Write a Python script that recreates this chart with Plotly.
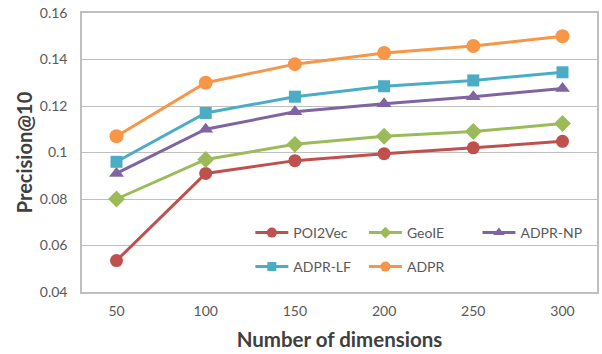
import plotly.graph_objects as go

dims = ["50", "100", "150", "200", "250", "300"]
poi2vec = [0.0535, 0.091, 0.0965, 0.0995, 0.102, 0.1048]
geoie = [0.080, 0.097, 0.1035, 0.107, 0.109, 0.1125]
adpr_np = [0.091, 0.110, 0.1175, 0.121, 0.124, 0.1275]
adpr_lf = [0.096, 0.117, 0.124, 0.1285, 0.131, 0.1345]
adpr = [0.107, 0.130, 0.138, 0.1428, 0.1458, 0.150]

# name, values, colour, symbol, marker size, legend marker size, legend id
series = [
    ("POI2Vec", poi2vec, "#C0504D", "circle", 13, 10, "legend"),
    ("GeoIE", geoie, "#9BBB59", "diamond", 13, 9, "legend2"),
    ("ADPR-NP", adpr_np, "#8064A2", "triangle-up", 13, 10, "legend3"),
    ("ADPR-LF", adpr_lf, "#4BACC6", "square", 12, 9, "legend4"),
    ("ADPR", adpr, "#F79646", "circle", 14, 10, "legend5"),
]

fig = go.Figure()
for name, vals, color, sym, size, lsize, lg in series:
    fig.add_trace(go.Scatter(
        x=dims, y=vals, name=name, mode="lines+markers",
        line=dict(color=color, width=3),
        marker=dict(symbol=sym, size=size, color=color),
        showlegend=False,
    ))
    # legend-only entry with smaller marker like the original
    fig.add_trace(go.Scatter(
        x=[None], y=[None], name=name, mode="lines+markers",
        line=dict(color=color, width=3),
        marker=dict(symbol=sym, size=lsize, color=color),
        legend=lg, showlegend=True,
    ))

font_family = "Lato, Open Sans, sans-serif"
leg_common = dict(bgcolor="rgba(0,0,0,0)", font=dict(family=font_family, size=14, color="#595959"),
                  xanchor="left", yanchor="middle", itemwidth=33, borderwidth=0)

def lx(px):
    return (px - 82) / 517.0

def ly(py):
    return (292 - py) / 279.0

fig.update_layout(
    width=602, height=354,
    margin=dict(l=82, r=3, t=13, b=62),
    paper_bgcolor="white", plot_bgcolor="white",
    font=dict(family=font_family, color="#595959", size=14),
    xaxis=dict(
        type="category", showgrid=False, showline=True, linecolor="#BFBFBF", linewidth=1.5, mirror=True,
        ticks="", tickfont=dict(size=14, color="#595959"), ticklabelstandoff=5,
        title=dict(text="<b>Number of dimensions</b>", font=dict(size=20.5, color="#404040"), standoff=15),
    ),
    yaxis=dict(
        range=[0.04, 0.16], dtick=0.02, showgrid=True, gridcolor="#BFBFBF", gridwidth=1.2,
        showline=True, linecolor="#BFBFBF", linewidth=1.5, mirror=True, zeroline=False,
        tickvals=[0.04, 0.06, 0.08, 0.1, 0.12, 0.14, 0.16],
        ticktext=["0.04", "0.06", "0.08", "0.1", "0.12", "0.14", "0.16"],
        ticks="", tickfont=dict(size=14, color="#595959"), ticklabelstandoff=10,
        title=dict(text="<b>Precision@10</b>", font=dict(size=20, color="#404040"), standoff=2),
    ),
    legend=dict(x=lx(251), y=ly(233), **leg_common),
    legend2=dict(x=lx(365), y=ly(233), **leg_common),
    legend3=dict(x=lx(479), y=ly(233), **leg_common),
    legend4=dict(x=lx(251), y=ly(267), **leg_common),
    legend5=dict(x=lx(365), y=ly(267), **leg_common),
)

fig.write_html("out.html", config={"displayModeBar": False},
               post_script="document.body.style.margin='0px';")
